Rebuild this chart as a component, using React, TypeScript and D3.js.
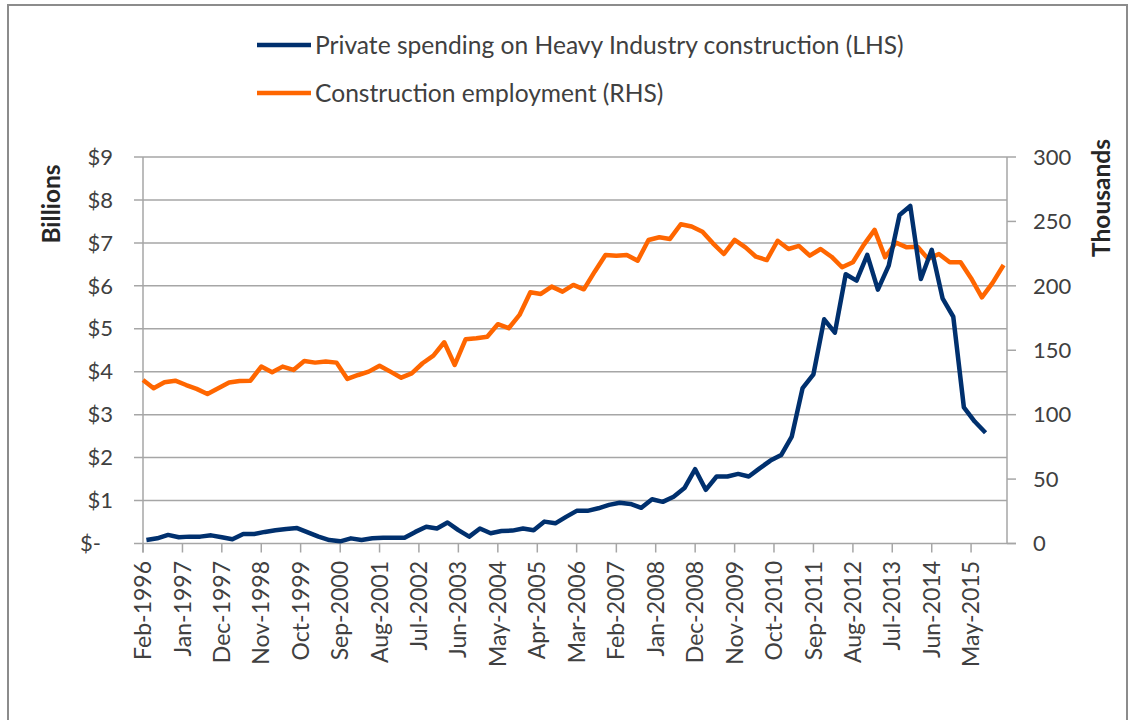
import React from 'react';
import * as d3 from 'd3';

// Quarterly series
const spendingStart = '1996-03';
const spending = [
  0.08, 0.12, 0.2, 0.145, 0.16, 0.16, 0.19, 0.145, 0.1, 0.22,
  0.22, 0.27, 0.31, 0.34, 0.36, 0.26, 0.16, 0.08, 0.05, 0.12,
  0.08, 0.12, 0.135, 0.135, 0.135, 0.27, 0.39, 0.35, 0.49, 0.31,
  0.16, 0.35, 0.24, 0.29, 0.3, 0.35, 0.31, 0.51, 0.47, 0.62,
  0.76, 0.76, 0.82, 0.9, 0.95, 0.92, 0.83, 1.03, 0.97, 1.09,
  1.29, 1.73, 1.25, 1.56, 1.56, 1.62, 1.56, 1.75, 1.93, 2.06,
  2.49, 3.62, 3.94, 5.22, 4.91, 6.27, 6.12, 6.72, 5.91, 6.47,
  7.65, 7.86, 6.16, 6.84, 5.71, 5.28, 3.17, 2.84, 2.58,
];

const employmentStart = '1996-02';
const employment = [
  126.9, 120.5, 125.1, 126.4, 123, 120, 116, 120.5, 125, 126.2,
  126.4, 137.3, 132.9, 137.3, 134.7, 141.7, 140.4, 141.2, 140.4, 127.7,
  130.8, 133.4, 138, 133.4, 128.7, 132.1, 139.9, 145.8, 156.2, 138.6,
  158.5, 159.3, 160.5, 170.2, 167.1, 177.4, 195, 193.7, 199.4, 195.5,
  200.7, 197.3, 211, 224, 223.4, 224, 219.5, 235.6, 237.7, 236.4,
  247.8, 246, 242, 233, 224.7, 235.6, 229.9, 222.6, 220, 235,
  228.6, 231, 223.4, 228.6, 222.6, 214.4, 218.3, 231.8, 243.4, 222.2,
  233.5, 229.9, 230.4, 220.9, 224.7, 218.3, 218.3, 205.9, 191.1, 202.5,
  216.2,
];

const tickLabels = [
  'Feb-1996', 'Jan-1997', 'Dec-1997', 'Nov-1998', 'Oct-1999', 'Sep-2000',
  'Aug-2001', 'Jul-2002', 'Jun-2003', 'May-2004', 'Apr-2005', 'Mar-2006',
  'Feb-2007', 'Jan-2008', 'Dec-2008', 'Nov-2009', 'Oct-2010', 'Sep-2011',
  'Aug-2012', 'Jul-2013', 'Jun-2014', 'May-2015',
];
const leftTicks = [0, 1, 2, 3, 4, 5, 6, 7, 8, 9];
const rightTicks = [0, 50, 100, 150, 200, 250, 300];

const seriesNames = [
  'Private spending on Heavy Industry construction (LHS)',
  'Construction employment (RHS)',
];

const NAVY = '#00306e';
const ORANGE = '#ff6600';
const GRID = '#a6a6a6';
const TEXT = '#404040';
const FONT = 'Lato, sans-serif';

const parseMonth = d3.timeParse('%Y-%m');
const parseLabel = d3.timeParse('%b-%Y');

const quarterly = (start: string, vals: number[]) =>
  vals.map((v, i) => [d3.timeMonth.offset(parseMonth(start) as Date, i * 3), v] as [Date, number]);

const App: React.FC = () => {
  const left = 143, right = 1007, top = 157, bottom = 543.5;

  const x = d3.scaleTime()
    .domain([parseMonth('1996-02') as Date, parseMonth('2016-03') as Date])
    .range([left, right]);
  const yL = d3.scaleLinear().domain([0, 9]).range([bottom, top]);
  const yR = d3.scaleLinear().domain([0, 300]).range([bottom, top]);

  const lineL = d3.line<[Date, number]>().x(d => x(d[0])).y(d => yL(d[1]));
  const lineR = d3.line<[Date, number]>().x(d => x(d[0])).y(d => yR(d[1]));

  const spendData = quarterly(spendingStart, spending);
  const empData = quarterly(employmentStart, employment);

  return (
    <svg width={1134} height={720} style={{ position: 'absolute', left: 0, top: 0, background: '#fff' }}>
      <rect x={8} y={5} width={1119} height={730} fill="none" stroke="#8c8c8c" strokeWidth={2} />

      {/* legend */}
      {seriesNames.map((name, i) => (
        <g key={name} transform={`translate(257,${45 + i * 48})`}>
          <line x1={0} x2={54} y1={0} y2={0} stroke={i === 0 ? NAVY : ORANGE} strokeWidth={4.5} />
          <text x={58} y={0} dy="0.35em" fontFamily={FONT} fontSize={24.6} fill={TEXT}>{name}</text>
        </g>
      ))}

      {/* gridlines + left axis */}
      {leftTicks.map(v => (
        <g key={v}>
          <line x1={left - 9} x2={right} y1={yL(v)} y2={yL(v)} stroke={GRID} strokeWidth={1.5} />
          <text x={v === 0 ? 101 : 113} y={yL(v)} dy="0.35em" textAnchor="end"
            fontFamily={FONT} fontSize={22} fill={TEXT}>{v === 0 ? '$-' : `$${v}`}</text>
        </g>
      ))}
      <line x1={left} x2={left} y1={top} y2={bottom + 9} stroke={GRID} strokeWidth={1.5} />

      {/* right axis */}
      <line x1={right} x2={right} y1={top} y2={bottom} stroke={GRID} strokeWidth={1.5} />
      <line x1={right} x2={right + 9} y1={bottom} y2={bottom} stroke={GRID} strokeWidth={1.5} />
      {rightTicks.map(v => (
        <g key={v}>
          <line x1={right} x2={right + 9} y1={yR(v)} y2={yR(v)} stroke={GRID} strokeWidth={1.5} />
          <text x={1033} y={yR(v)} dy="0.35em" fontFamily={FONT} fontSize={22} fill={TEXT}>{v}</text>
        </g>
      ))}

      {/* x axis ticks and labels */}
      {tickLabels.map(lbl => {
        const tx = x(parseLabel(lbl) as Date);
        return (
          <g key={lbl}>
            <line x1={tx} x2={tx} y1={bottom} y2={bottom + 9} stroke={GRID} strokeWidth={1.5} />
            <text transform={`translate(${tx},561) rotate(-90)`} dy="0.35em" textAnchor="end"
              fontFamily={FONT} fontSize={23} fill={TEXT}>{lbl}</text>
          </g>
        );
      })}

      {/* axis titles */}
      <text transform="translate(51,204) rotate(-90)" dy="0.35em" textAnchor="middle"
        fontFamily={FONT} fontSize={24.5} fontWeight="bold" fill="#262626">Billions</text>
      <text transform="translate(1101,198) rotate(-90)" dy="0.35em" textAnchor="middle"
        fontFamily={FONT} fontSize={24.5} fontWeight="bold" fill="#262626">Thousands</text>

      {/* series */}
      <path d={lineR(empData) || ''} fill="none" stroke={ORANGE} strokeWidth={4.5} strokeLinejoin="round" />
      <path d={lineL(spendData) || ''} fill="none" stroke={NAVY} strokeWidth={4.5} strokeLinejoin="round" />
    </svg>
  );
};

export default App;
